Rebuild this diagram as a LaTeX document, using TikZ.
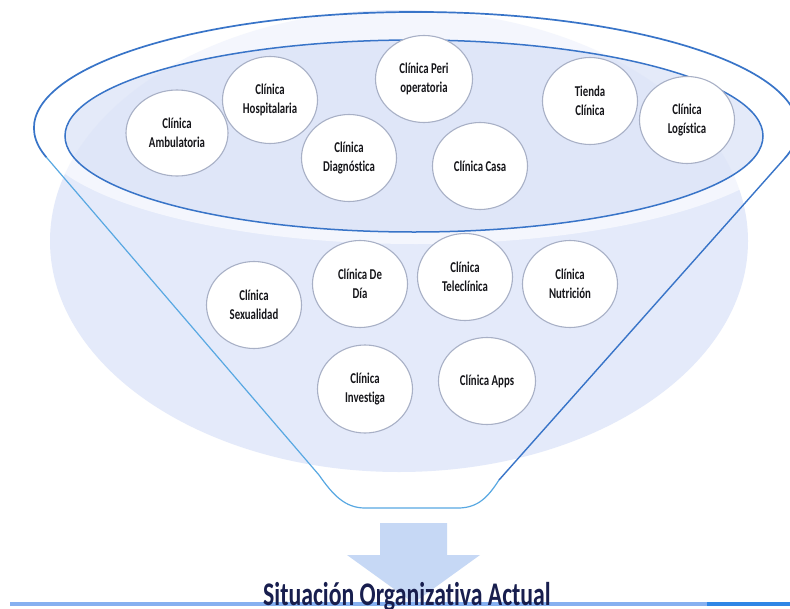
\documentclass[tikz,border=0pt]{standalone}
\usepackage{fontspec}
\newfontfamily\labfont[FakeStretch=0.72,Ligatures=NoCommon]{Carlito}
\usetikzlibrary{shapes.geometric}
\definecolor{disc}{RGB}{228,234,250}
\definecolor{innerfill}{RGB}{210,220,245}
\definecolor{rimblue}{RGB}{56,116,200}
\definecolor{sideblue}{RGB}{88,168,226}
\definecolor{bubline}{RGB}{168,176,198}
\definecolor{labtext}{RGB}{22,22,26}
\definecolor{navy}{RGB}{24,30,78}
\definecolor{arrowfill}{RGB}{198,216,245}
\definecolor{baselight}{RGB}{134,176,240}
\definecolor{basedark}{RGB}{46,134,230}
\begin{document}
\begin{tikzpicture}[x=1pt,y=1pt,yscale=-1,
  bub/.style={ellipse, draw=bubline, line width=1.1pt, fill=white, inner sep=0pt,
    align=center, text=labtext, minimum width=95pt, minimum height=87pt,
    font=\labfont\bfseries\fontsize{15}{19}\selectfont},
  rim/.style={draw=rimblue, line width=1.7pt},
  side/.style={draw=sideblue, line width=1.2pt}]
\useasboundingbox (0,0) rectangle (790,608);
\fill[white] (0,0) rectangle (790,608);

% pale backdrop disc
\fill[disc] (399,241) ellipse [x radius=349, y radius=231];

% glossy rim of the funnel
\fill[white, opacity=0.6] (416,128) ellipse [x radius=382, y radius=116];
\fill[innerfill, opacity=0.6] (414,136) ellipse [x radius=349, y radius=96];
\draw[rim, line width=1.5pt] (414,136) ellipse [x radius=349, y radius=96];

% funnel outline
\path (416,128) ++(165.4:382 and 116) coordinate (lt);
\path (416,128) ++(375.1:382 and 116) coordinate (rt);
\coordinate (lb) at (319,475);
\coordinate (rb) at (499,480);
\draw[side] (lt) -- (lb) .. controls (333,495) and (345,508) .. (365,508)
  -- (458,508) .. controls (478,508) and (488,497) .. (rb);
\draw[rim] (lt) arc [start angle=165.4, end angle=375.1, x radius=382, y radius=116];
\draw[rim, line width=1.4pt] (rt) -- (rb);

% clinics
\node[bub, minimum width=102pt, minimum height=86pt] (amb) at (177,133) {Clínica\\Ambulatoria};
\node[bub] (hosp) at (270,100) {Clínica\\Hospitalaria};
\node[bub] (diag) at (349,158) {Clínica\\Diagnóstica};
\node[bub, minimum width=97pt] (peri) at (424,79) {Clínica Peri\\operatoria};
\node[bub] (casa) at (480,166) {Clínica Casa};
\node[bub] (tienda) at (590,101) {Tienda\\Clínica};
\node[bub] (logis) at (687,120) {Clínica\\Logística};
\node[bub] (sexu) at (254,305) {Clínica\\Sexualidad};
\node[bub] (dia) at (360,284) {Clínica De\\Día};
\node[bub] (tele) at (465,277) {Clínica\\Teleclínica};
\node[bub] (nutri) at (570,284) {Clínica\\Nutrición};
\node[bub, minimum height=88pt] (inves) at (365,389) {Clínica\\Investiga};
\node[bub, minimum width=97pt] (apps) at (487,381) {Clínica Apps};

% output arrow and baseline
\coordinate (atip) at (413.5,603);
\fill[arrowfill] (380,523) -- (447,523) -- (447,555) -- (480,555) -- (atip)
  -- (347,555) -- (380,555) -- cycle;
\coordinate (bl) at (10,603.5);
\coordinate (bm) at (707,603.5);
\coordinate (br) at (790,603.5);
\draw[baselight, line width=4pt] (bl) -- (bm);
\draw[basedark, line width=4pt] (bm) -- (br);

\node[anchor=base west, inner sep=0pt, text=navy,
  font=\labfont\bfseries\fontsize{33}{36}\selectfont] (title) at (263,605)
  {Situación Organizativa Actual};
\end{tikzpicture}
\end{document}
